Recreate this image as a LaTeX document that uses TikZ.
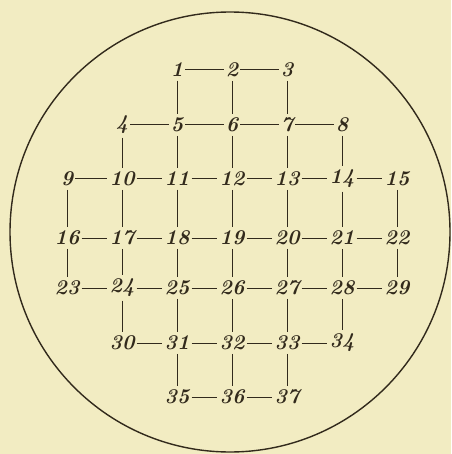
\documentclass[tikz,border=0pt]{standalone}
\usetikzlibrary{positioning}
\definecolor{paper}{RGB}{242,236,194}
\definecolor{ink}{RGB}{50,42,28}

\begin{document}
\begin{tikzpicture}[x=1pt,y=-1pt,
  hole/.style={inner xsep=2pt,inner ysep=3.5pt,font=\fontsize{21}{24}\selectfont\bfseries\itshape,text=ink},
  link/.style={draw=ink,line width=1pt}
]
\fill[paper] (0,0) rectangle (451,454);
\useasboundingbox (0,0) rectangle (451,454);
\draw[ink,line width=1.4pt] (230,232) circle[radius=220];

% the 37 holes
\foreach \n/\x/\y in {1/177/70,2/232/70,3/287/70,
  4/122/125,5/177/125,6/232/125,7/287/125,8/342/125,
  9/67/179,10/122/179,11/177/179,12/232/179,13/287/179,14/342/179,15/397/179,
  16/67/238,17/122/238,18/177/238,19/232/238,20/287/238,21/342/238,22/397/238,
  23/67/288,24/122/288,25/177/288,26/232/288,27/287/288,28/342/288,29/397/288,
  30/122/343,31/177/343,32/232/343,33/287/343,34/342/343,
  35/177/397,36/232/397,37/287/397}
  \node[hole] (h\n) at (\x,\y) {\n};

% rows
\foreach \a/\b in {1/2,2/3,4/5,5/6,6/7,7/8,9/10,10/11,11/12,12/13,13/14,14/15,
  16/17,17/18,18/19,19/20,20/21,21/22,23/24,24/25,25/26,26/27,27/28,28/29,
  30/31,31/32,32/33,33/34,35/36,36/37}
  \draw[link] (h\a) -- (h\b);

% columns
\foreach \a/\b in {1/5,2/6,3/7,4/10,5/11,6/12,7/13,8/14,
  9/16,10/17,11/18,12/19,13/20,14/21,15/22,16/23,17/24,18/25,19/26,20/27,21/28,22/29,
  24/30,25/31,26/32,27/33,28/34,31/35,32/36,33/37}
  \draw[link] (h\a) -- (h\b);
\end{tikzpicture}
\end{document}
